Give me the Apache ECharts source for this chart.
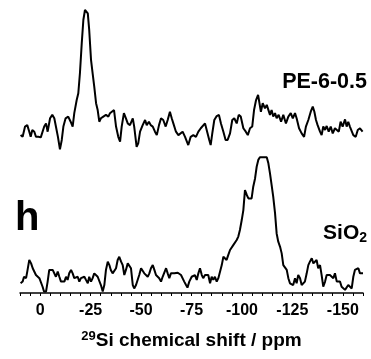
<!DOCTYPE html>
<html>
<head>
<meta charset="utf-8">
<script src="https://cdn.jsdelivr.net/npm/echarts@6/dist/echarts.min.js"></script>
<style>
html,body{margin:0;padding:0;background:#fff;}
#chart{width:371px;height:359px;}
</style>
</head>
<body>
<div id="chart"></div>
<script>
// ---- data ----
const peShift = [9.7, 8.7, 7.5, 6.4, 5.4, 4.7, 3.9, 2.9, 2.1, 0.9, -0.3, -1.2, -2.0, -2.9, -3.7, -4.9, -6.0, -7.0, -7.8, -8.8, -9.8, -10.7, -11.5, -12.6, -13.9, -15.1, -16.1, -16.9, -18.1, -18.9, -19.7, -20.6, -21.4, -22.2, -22.7, -23.6, -24.3, -25.2, -26.0, -26.8, -27.7, -28.5, -29.3, -30.1, -31.3, -32.6, -33.8, -34.6, -35.4, -36.6, -37.6, -38.7, -39.6, -40.4, -41.5, -42.5, -43.4, -44.5, -45.9, -46.6, -47.8, -48.6, -49.5, -50.8, -52.0, -52.8, -53.9, -54.8, -55.8, -56.9, -57.8, -58.9, -59.9, -61.0, -62.2, -63.2, -64.3, -65.2, -66.0, -67.3, -68.5, -69.3, -70.6, -71.8, -73.4, -74.6, -75.9, -77.2, -78.4, -79.6, -80.5, -81.7, -82.5, -83.8, -84.5, -85.3, -86.3, -87.5, -88.6, -89.6, -90.8, -91.9, -92.9, -94.1, -95.2, -96.2, -97.4, -98.4, -99.4, -100.7, -101.9, -102.9, -104.0, -105.1, -106.0, -107.0, -108.0, -108.6, -109.4, -110.3, -111.4, -112.3, -113.1, -113.9, -114.7, -115.5, -116.4, -117.2, -118.2, -119.4, -120.5, -121.8, -123.0, -124.2, -125.2, -126.3, -127.1, -128.3, -129.6, -130.8, -131.7, -132.9, -134.1, -135.1, -135.9, -136.7, -137.5, -138.7, -139.5, -140.3, -141.2, -142.0, -143.0, -144.0, -145.0, -146.1, -147.0, -148.0, -148.9, -149.9, -151.1, -151.9, -152.7, -153.5, -154.4, -155.2, -156.4, -157.4, -158.5, -159.8];
const peIntensity = [5.4, 4.8, 8.4, 8.9, 6.6, 4.8, 7.2, 6.6, 4.8, 4.8, 4.6, 4.8, 8.4, 9.5, 6.6, 11.3, 12.5, 11.3, 8.4, 4.8, 0.4, 3.7, 8.4, 11.3, 11.9, 10.1, 8.4, 13.1, 17.7, 20.1, 27.1, 37.6, 45.8, 49.3, 49.9, 48.1, 42.3, 31.8, 27.1, 22.4, 16.6, 14.2, 10.1, 11.3, 11.9, 12.5, 11.9, 13.1, 12.5, 14.2, 8.4, 4.8, 3.1, 8.4, 13.1, 11.3, 9.5, 8.9, 11.3, 8.4, 1.3, 2.5, 6.6, 8.9, 10.7, 8.9, 10.1, 8.9, 8.4, 6.6, 5.4, 8.9, 11.3, 10.7, 8.4, 10.7, 13.6, 11.3, 9.5, 6.6, 5.4, 6.0, 6.6, 4.8, 1.9, 4.8, 5.4, 4.8, 6.6, 7.8, 7.2, 9.5, 8.9, 3.7, 1.9, 6.0, 10.7, 12.1, 12.5, 9.5, 6.6, 3.7, 3.7, 6.0, 10.7, 11.3, 9.5, 12.5, 11.9, 7.8, 6.6, 5.4, 7.8, 8.4, 14.2, 17.7, 19.5, 18.9, 13.6, 16.6, 14.8, 16.0, 15.4, 12.5, 14.2, 11.9, 13.1, 11.3, 12.5, 10.1, 12.5, 9.5, 11.9, 13.1, 11.3, 13.1, 11.3, 7.8, 6.0, 4.8, 8.4, 10.7, 13.6, 15.4, 13.6, 10.7, 8.9, 6.6, 5.4, 8.4, 7.2, 8.6, 6.6, 8.4, 6.0, 7.8, 8.4, 6.6, 10.1, 8.4, 10.9, 8.4, 10.1, 8.4, 8.9, 5.4, 4.8, 7.2, 7.8, 6.6];

const siShift = [9.7, 8.7, 8.0, 7.0, 6.4, 5.4, 4.5, 3.7, 2.9, 2.1, 1.2, 0.4, -0.4, -1.2, -1.9, -2.9, -3.7, -4.5, -5.4, -6.2, -7.0, -7.8, -8.7, -9.5, -10.3, -11.2, -12.0, -12.8, -13.6, -14.4, -15.3, -16.1, -16.9, -17.8, -18.6, -19.4, -20.2, -21.1, -21.9, -22.7, -23.6, -24.3, -25.2, -26.0, -26.8, -27.7, -28.5, -29.3, -30.1, -31.0, -31.8, -32.6, -33.5, -34.3, -35.0, -35.9, -36.7, -37.6, -38.4, -39.2, -40.1, -40.9, -41.7, -42.5, -43.4, -44.2, -45.0, -45.9, -46.6, -47.5, -48.3, -49.1, -50.0, -50.8, -51.6, -52.4, -53.3, -54.1, -54.9, -55.8, -56.6, -57.4, -58.2, -59.0, -59.9, -60.7, -61.5, -62.4, -63.2, -64.0, -64.8, -65.7, -66.5, -67.3, -68.2, -69.0, -69.8, -70.6, -71.4, -72.3, -73.0, -73.9, -75.1, -75.9, -76.7, -77.6, -78.4, -79.2, -80.1, -80.8, -81.7, -82.5, -83.3, -84.2, -85.0, -85.8, -86.6, -87.5, -88.3, -89.1, -90.0, -90.8, -91.6, -92.4, -93.2, -94.1, -94.9, -95.7, -96.6, -97.4, -98.2, -99.0, -99.9, -100.7, -101.5, -102.4, -103.2, -104.0, -104.8, -105.6, -106.5, -107.3, -108.1, -108.9, -109.8, -110.6, -111.4, -112.3, -113.1, -113.9, -114.7, -115.5, -116.4, -117.2, -118.0, -118.9, -119.7, -120.5, -121.3, -122.2, -123.0, -123.8, -124.7, -125.4, -126.3, -127.1, -127.9, -128.8, -129.6, -130.4, -131.2, -132.1, -132.9, -133.7, -134.6, -135.4, -136.2, -137.0, -137.8, -138.7, -139.5, -140.3, -141.2, -142.0, -142.8, -143.6, -144.5, -145.3, -146.1, -147.0, -147.8, -148.6, -149.4, -150.2, -151.1, -151.9, -152.7, -153.5, -154.4, -155.2, -156.0, -156.9, -157.7, -158.5, -159.3, -160.0];
const siIntensity = [3.4, 4.0, 5.7, 5.2, 7.5, 11.6, 10.4, 8.7, 8.1, 6.3, 6.9, 5.2, 4.6, 2.2, 0.5, 0.5, 4.0, 8.1, 8.7, 8.1, 8.7, 5.7, 7.5, 5.7, 4.0, 3.4, 4.0, 5.7, 4.6, 6.9, 8.1, 6.9, 5.2, 4.6, 5.7, 4.0, 5.2, 5.2, 5.7, 4.6, 3.4, 5.7, 4.0, 5.2, 6.9, 7.5, 5.7, 5.2, 2.8, 0.5, 2.8, 8.1, 11.0, 9.8, 8.1, 6.9, 7.5, 8.7, 11.6, 12.7, 11.0, 9.8, 6.3, 8.1, 10.4, 11.0, 8.7, 2.8, 1.6, 2.8, 2.2, 6.3, 8.7, 8.1, 6.9, 7.5, 5.7, 6.9, 8.7, 9.8, 8.1, 6.3, 6.9, 5.2, 4.0, 5.7, 6.3, 8.7, 6.9, 5.2, 6.9, 6.3, 6.9, 6.9, 7.1, 6.7, 6.3, 5.7, 4.0, 2.8, 1.9, 4.0, 5.7, 5.2, 6.3, 4.6, 6.9, 8.7, 6.3, 5.2, 6.3, 5.7, 6.3, 3.4, 5.7, 4.6, 5.7, 4.0, 5.2, 4.6, 9.8, 12.7, 12.2, 11.6, 13.3, 15.1, 15.7, 16.8, 17.4, 18.6, 19.8, 22.1, 25.6, 29.1, 36.1, 34.4, 33.2, 33.8, 33.2, 37.3, 40.2, 44.3, 46.7, 47.6, 47.3, 47.6, 47.3, 47.6, 45.5, 42.0, 37.9, 33.8, 28.0, 20.9, 18.0, 16.2, 13.9, 9.8, 10.4, 8.1, 5.2, 3.4, 4.0, 2.8, 5.2, 3.4, 6.3, 5.2, 2.8, 2.2, 4.0, 6.9, 9.8, 11.0, 12.2, 10.4, 9.8, 11.6, 8.7, 9.8, 6.3, 2.2, 4.0, 6.3, 6.0, 6.3, 6.7, 5.2, 6.9, 4.0, 4.6, 4.0, 2.2, 2.8, 1.1, 1.8, 2.8, 2.2, 1.6, 5.7, 8.1, 7.5, 8.7, 6.9, 7.5, 6.9];

const majorTicks = [0, -25, -50, -75, -100, -125, -150];
const seriesNames = ['PE-6-0.5', 'SiO2'];
const PE_OFFSET = 50; // vertical stacking offset of the upper spectrum

function pairs(xs, ys, off) {
  const n = Math.min(xs.length, ys.length);
  const out = [];
  for (let i = 0; i < n; i++) out.push([xs[i], ys[i] + off]);
  return out;
}

const FONT = '"Liberation Sans", Arial, Helvetica, sans-serif';
const chart = echarts.init(document.getElementById('chart'), null, {renderer: 'canvas'});
chart.setOption({
  animation: false,
  backgroundColor: '#fff',
  grid: {left: 20, right: 8, top: 8, bottom: 66},
  xAxis: {
    type: 'value',
    inverse: true,
    min: -160,
    max: 10,
    interval: 5,
    splitLine: {show: false},
    axisLine: {show: true, lineStyle: {color: '#000', width: 1.5}},
    axisTick: {show: true, length: 3, inside: false, lineStyle: {color: '#000', width: 1}},
    axisLabel: {
      interval: 0,
      margin: 10,
      color: '#000',
      fontSize: 16,
      fontWeight: 'bold',
      fontFamily: FONT,
      formatter: function (v) { return majorTicks.indexOf(v) >= 0 ? String(v) : ''; }
    },
    name: '{sup|29}{b|Si chemical shift / ppm}',
    nameLocation: 'middle',
    nameGap: 37,
    nameTextStyle: {
      rich: {
        sup: {fontSize: 13, fontWeight: 'bold', fontFamily: FONT, color: '#000', padding: [0, 0, 9, 0]},
        b: {fontSize: 19, fontWeight: 'bold', fontFamily: FONT, color: '#000'}
      }
    }
  },
  yAxis: {type: 'value', min: 0, max: 100, show: false},
  series: [
    {
      name: seriesNames[0], type: 'line', showSymbol: false, smooth: false,
      lineStyle: {color: '#000', width: 2}, data: pairs(peShift, peIntensity, PE_OFFSET)
    },
    {
      name: seriesNames[1], type: 'line', showSymbol: false, smooth: false,
      lineStyle: {color: '#000', width: 2}, data: pairs(siShift, siIntensity, 0)
    }
  ],
  graphic: [
    {type: 'text', x: 367, y: 82, style: {text: 'PE-6-0.5', align: 'right', verticalAlign: 'middle', fill: '#000', font: 'bold 21.5px ' + FONT}},
    {type: 'text', x: 15, y: 219, style: {text: 'h', align: 'left', verticalAlign: 'middle', fill: '#000', font: 'bold 40px ' + FONT}},
    {type: 'text', x: 367, y: 233, style: {
      text: '{a|SiO}{s|2}', align: 'right', verticalAlign: 'middle',
      rich: {
        a: {fontSize: 21, fontWeight: 'bold', fontFamily: FONT, fill: '#000', color: '#000'},
        s: {fontSize: 14, fontWeight: 'bold', fontFamily: FONT, fill: '#000', color: '#000', padding: [11, 0, 0, 0]}
      }
    }}
  ]
});
</script>
</body>
</html>
